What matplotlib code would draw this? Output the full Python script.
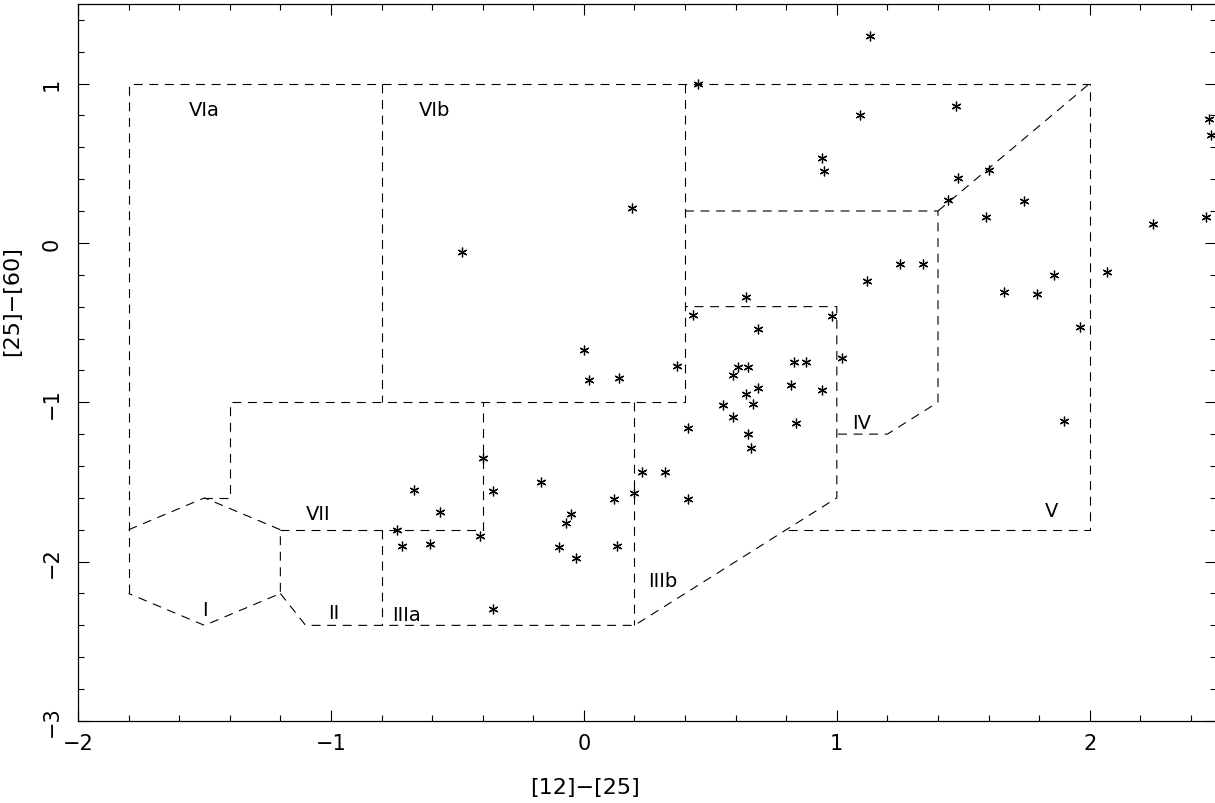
import matplotlib
matplotlib.use('Agg')
import matplotlib.pyplot as plt
from matplotlib.ticker import MultipleLocator

# IRAS colours of the sources
x_col = [0.19, -0.48, 1.13, 0.45, 1.09, 0.94, 0.95, 1.44, 1.25, 1.34,
         1.12, 0.64, 0.43, 0.98, 1.47, 1.48, 1.60, 1.74, 1.59, 2.47,
         2.48, 2.25, 2.46, 1.86, 1.66, 1.79, 2.07, 1.96, 1.90, 0.00,
         0.02, 0.14, -0.40, -0.36, -0.17, -0.67, -0.57, -0.74, -0.72, -0.61,
         -0.41, -0.05, -0.07, -0.10, -0.03, 0.12, 0.13, -0.36, 0.20, 0.23,
         0.32, 0.69, 1.02, 0.37, 0.61, 0.65, 0.59, 0.83, 0.88, 0.69,
         0.82, 0.94, 0.64, 0.67, 0.55, 0.59, 0.41, 0.84, 0.65, 0.66,
         0.41]
y_col = [0.22, -0.06, 1.30, 1.00, 0.80, 0.53, 0.45, 0.27, -0.13, -0.13,
         -0.24, -0.34, -0.45, -0.46, 0.86, 0.41, 0.46, 0.26, 0.16, 0.78,
         0.68, 0.12, 0.16, -0.20, -0.31, -0.32, -0.18, -0.53, -1.12, -0.67,
         -0.86, -0.85, -1.35, -1.56, -1.50, -1.55, -1.69, -1.80, -1.90, -1.89,
         -1.84, -1.70, -1.76, -1.91, -1.98, -1.61, -1.90, -2.30, -1.57, -1.44,
         -1.44, -0.54, -0.72, -0.77, -0.78, -0.78, -0.83, -0.75, -0.75, -0.91,
         -0.89, -0.92, -0.95, -1.01, -1.02, -1.09, -1.16, -1.13, -1.20, -1.29,
         -1.61]

# region boundaries (van der Veen & Habing)
regions = [
    ([-1.8, -1.8, 2.0, 2.0, 0.8], [-2.2, 1.0, 1.0, -1.8, -1.8]),
    ([-0.8, -0.8], [1.0, -1.0]),
    ([0.4, 0.4, -1.4, -1.4, -1.5], [1.0, -1.0, -1.0, -1.6, -1.6]),
    ([-1.8, -1.5, -1.2, -1.2, -1.5, -1.8], [-1.8, -1.6, -1.8, -2.2, -2.4, -2.2]),
    ([-1.2, -0.4, -0.4], [-1.8, -1.8, -1.0]),
    ([-1.2, -1.1, 0.2, 1.0, 1.0, 0.4], [-2.2, -2.4, -2.4, -1.6, -0.4, -0.4]),
    ([-0.8, -0.8], [-1.8, -2.4]),
    ([0.2, 0.2], [-1.0, -2.4]),
    ([0.4, 1.4, 1.4, 1.2, 1.0], [0.2, 0.2, -1.0, -1.2, -1.2]),
    ([1.4, 2.0], [0.2, 1.0]),
]

region_names = ['VIa', 'VIb', 'VII', 'I', 'II', 'IIIa', 'IIIb', 'IV', 'V']
name_x = [-1.50, -0.59, -1.05, -1.50, -0.99, -0.70, 0.31, 1.10, 1.85]
name_y = [0.84, 0.84, -1.70, -2.30, -2.32, -2.33, -2.12, -1.13, -1.68]

fig = plt.figure(figsize=(12.15, 8.04), dpi=100)
ax = fig.add_axes([0.0642, 0.102, 0.9368, 0.892])

for rx, ry in regions:
    ax.plot(rx, ry, color='black', lw=0.8, linestyle=(0, (8, 6)))

ax.plot(x_col, y_col, linestyle='none', marker=(6, 2, 0), markersize=7,
        markeredgewidth=0.9, color='black')

for name, tx, ty in zip(region_names, name_x, name_y):
    ax.text(tx, ty, name, ha='center', va='center', fontsize=14)

ax.set_xlim(-2, 2.5)
ax.set_ylim(-3, 1.5)
ax.xaxis.set_major_locator(MultipleLocator(1))
ax.xaxis.set_minor_locator(MultipleLocator(0.2))
ax.yaxis.set_major_locator(MultipleLocator(1))
ax.yaxis.set_minor_locator(MultipleLocator(0.2))
ax.tick_params(which='both', direction='in', top=True, right=True,
               labelsize=15, width=0.8)
ax.tick_params(which='major', length=8)
ax.tick_params(which='minor', length=4)
ax.tick_params(axis='x', pad=9)
ax.tick_params(axis='y', pad=12)
for lab in ax.get_yticklabels():
    lab.set_rotation(90)
    lab.set_va('center')
for sp in ax.spines.values():
    sp.set_linewidth(0.9)

ax.set_xlabel('[12]\u2212[25]', fontsize=16)
ax.set_ylabel('[25]\u2212[60]', fontsize=16)
ax.xaxis.set_label_coords(0.445, -0.078)
ax.yaxis.set_label_coords(-0.049, 0.587)

fig.savefig('out.png', dpi=100)
